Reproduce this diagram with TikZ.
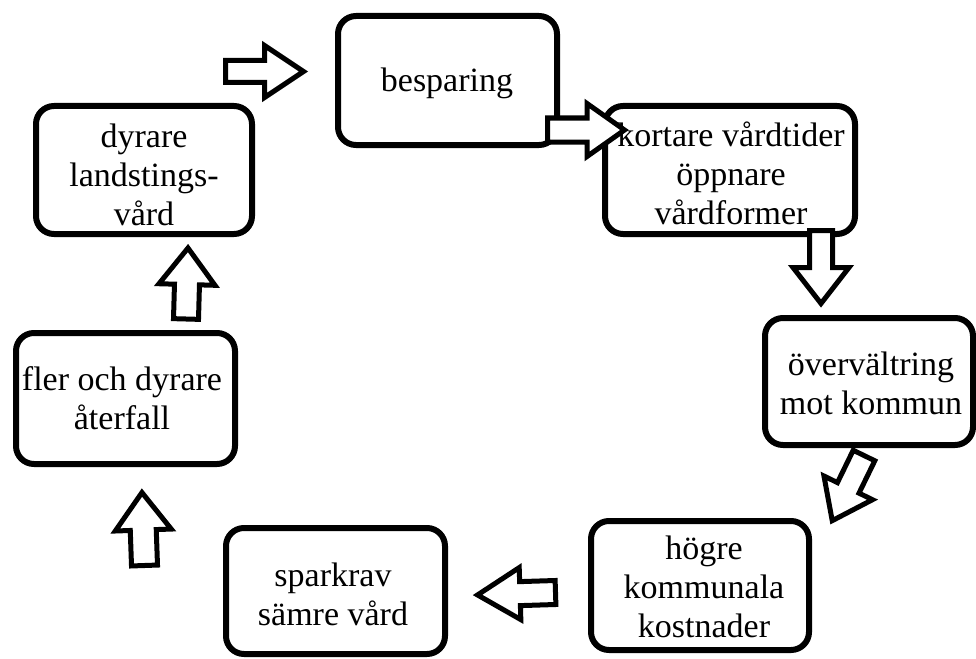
\documentclass[tikz,border=0pt]{standalone}
\usepackage{fontspec}
\setmainfont{Liberation Serif}
\newcommand\lnstrut{\vphantom{lp}}
\begin{document}
\begin{tikzpicture}[x=1pt,y=-1pt,
  box/.style={draw, line width=6pt, rounded corners=18pt, inner sep=0pt, outer sep=0pt, fill=white},
  boxtext/.style={font=\fontsize{34}{39}\selectfont, align=center, inner sep=0pt},
  arrowline/.style={draw, fill=white, line width=5pt, line join=miter},
  pics/blockarrow/.style n args={4}{code={\path[arrowline] (0,-#3) -- (#1,-#3) -- (#1,-#4) -- (#2,0) -- (#1,#4) -- (#1,#3) -- (0,#3) -- cycle;}}
]
\useasboundingbox (0,0) rectangle (976,658);

% boxes
\node[box, minimum width=219pt, minimum height=129pt] (b1) at (447.5,80.5) {};
\node[box, minimum width=250pt, minimum height=128pt] (b2) at (730,170) {};
\node[box, minimum width=208pt, minimum height=127pt] (b3) at (869,381.5) {};
\node[box, minimum width=218pt, minimum height=129pt] (b4) at (700,585.5) {};
\node[box, minimum width=219pt, minimum height=126pt] (b5) at (335.5,591) {};
\node[box, minimum width=219pt, minimum height=131pt] (b6) at (125.5,398.5) {};
\node[box, minimum width=216pt, minimum height=128pt] (b7) at (144,170) {};

% texts
\node[boxtext] (t1) at (447,83) {\lnstrut besparing};
\node[boxtext] (t2) at (731,177) {\lnstrut kortare vårdtider\\ \lnstrut öppnare\\ \lnstrut vårdformer};
\node[boxtext] (t3) at (871,386.5) {\lnstrut övervältring\\ \lnstrut mot kommun};
\node[boxtext] (t4) at (704,590) {\lnstrut högre\\ \lnstrut kommunala\\ \lnstrut kostnader};
\node[boxtext] (t5) at (333,598) {\lnstrut sparkrav\\ \lnstrut sämre vård};
\node[boxtext] (t6) at (122,401.5) {\lnstrut fler och dyrare\\ \lnstrut återfall};
\node[boxtext] (t7) at (144,178) {\lnstrut dyrare\\ \lnstrut landstings-\\ \lnstrut vård};

% block arrows
\pic (pA) at (225.5,71.5) {blockarrow={39}{78}{11}{26}};
\pic (pB) at (547.5,130) {blockarrow={39.5}{77}{12}{26.5}};
\pic[rotate=-90] (pC) at (821,230.5) {blockarrow={37}{73}{11.5}{28}};
\pic[rotate=-116] (pD) at (864,455.5) {blockarrow={36}{72.5}{12}{27}};
\pic[rotate=181.8] (pE) at (555.5,592.5) {blockarrow={35.5}{78}{12}{26}};
\pic[rotate=92] (pF) at (144.5,565.5) {blockarrow={35.5}{73}{13}{28}};
\pic[rotate=88.4] (pG) at (186,319) {blockarrow={34.5}{71}{12.5}{28}};
\end{tikzpicture}
\end{document}
